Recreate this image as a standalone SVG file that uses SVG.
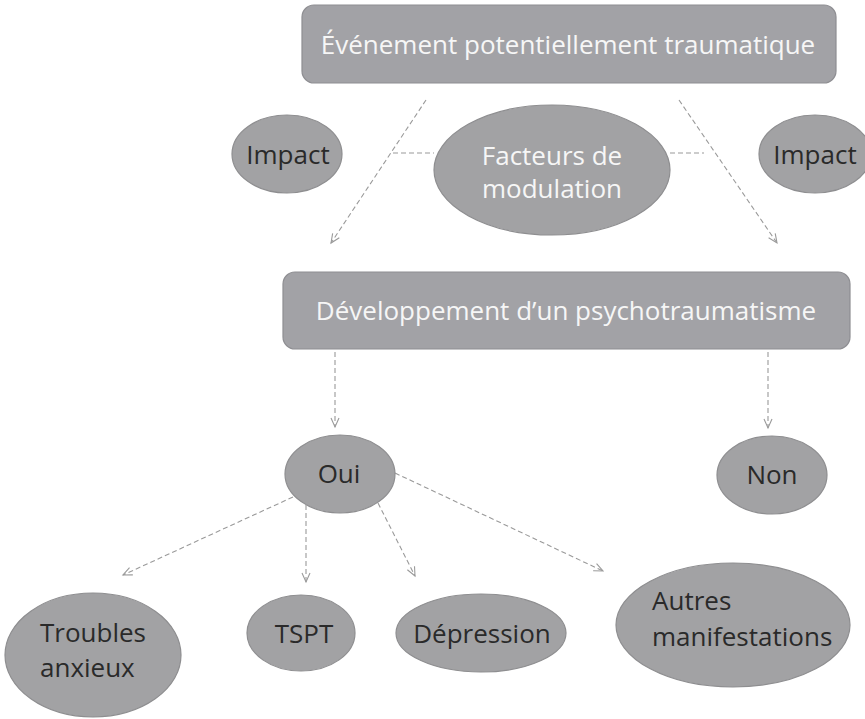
<svg xmlns="http://www.w3.org/2000/svg" width="865" height="719" viewBox="0 0 865 719">
<defs>
<style>
.box{fill:#a2a2a6;stroke:#8e8e92;stroke-width:1.2}
.node{fill:#a2a2a4;stroke:#8e8e90;stroke-width:1.2}
.lt{font-family:"Open Sans","Liberation Sans",sans-serif;font-size:26px;fill:#f6f6f6}
.dk{font-family:"Open Sans","Liberation Sans",sans-serif;font-size:26px;fill:#2a2a2a}
.c{text-anchor:middle}
.ln{fill:none;stroke:#9a9a9a;stroke-width:1.1;stroke-dasharray:5 3}
</style>
<marker id="arr" markerWidth="12" markerHeight="12" refX="10" refY="5" orient="auto" markerUnits="userSpaceOnUse">
<path d="M1,1 L10,5 L1,9" fill="none" stroke="#9a9a9a" stroke-width="1.1"/>
</marker>
</defs>
<rect width="865" height="719" fill="#ffffff"/>
<g id="connectors">
<line class="ln" x1="426" y1="100" x2="331" y2="243" marker-end="url(#arr)"/>
<line class="ln" x1="679" y1="100" x2="777" y2="243" marker-end="url(#arr)"/>
<line class="ln" x1="393" y1="153" x2="434" y2="153"/>
<line class="ln" x1="670" y1="153" x2="704" y2="153"/>
<line class="ln" x1="335" y1="352" x2="335" y2="427" marker-end="url(#arr)"/>
<line class="ln" x1="768" y1="352" x2="768" y2="428" marker-end="url(#arr)"/>
<line class="ln" x1="293" y1="497" x2="123" y2="575" marker-end="url(#arr)"/>
<line class="ln" x1="306" y1="505" x2="306" y2="582" marker-end="url(#arr)"/>
<line class="ln" x1="378" y1="503" x2="415" y2="576" marker-end="url(#arr)"/>
<line class="ln" x1="395" y1="473" x2="603" y2="571" marker-end="url(#arr)"/>
</g>
<g id="evenement">
<rect class="box" x="302" y="5" width="534" height="78" rx="12"/>
<text class="lt c" x="568" y="54">Événement potentiellement traumatique</text>
</g>
<g id="impact-left">
<ellipse class="node" cx="287" cy="154" rx="55" ry="39"/>
<text class="dk c" x="288" y="164">Impact</text>
</g>
<g id="facteurs">
<ellipse class="node" cx="552" cy="170" rx="118" ry="65"/>
<text class="lt c" x="552" y="165">Facteurs de</text>
<text class="lt c" x="552" y="198">modulation</text>
</g>
<g id="impact-right">
<ellipse class="node" cx="815" cy="154" rx="56" ry="39"/>
<text class="dk c" x="815" y="164">Impact</text>
</g>
<g id="developpement">
<rect class="box" x="283" y="272" width="567" height="77" rx="12"/>
<text class="lt c" x="566" y="320">Développement d’un psychotraumatisme</text>
</g>
<g id="oui">
<ellipse class="node" cx="340" cy="474" rx="55" ry="39"/>
<text class="dk c" x="339" y="483">Oui</text>
</g>
<g id="non">
<ellipse class="node" cx="772" cy="475" rx="55" ry="39"/>
<text class="dk c" x="772" y="484">Non</text>
</g>
<g id="troubles">
<ellipse class="node" cx="93" cy="655" rx="88" ry="62"/>
<text class="dk" x="40" y="642">Troubles</text>
<text class="dk" x="40" y="677">anxieux</text>
</g>
<g id="tspt">
<ellipse class="node" cx="301" cy="633" rx="54" ry="38"/>
<text class="dk c" x="304" y="643">TSPT</text>
</g>
<g id="depression">
<ellipse class="node" cx="481" cy="633" rx="85" ry="39"/>
<text class="dk c" x="482" y="643">Dépression</text>
</g>
<g id="autres">
<ellipse class="node" cx="733" cy="625" rx="117" ry="62"/>
<text class="dk" x="652" y="610">Autres</text>
<text class="dk" x="652" y="646">manifestations</text>
</g>
</svg>
